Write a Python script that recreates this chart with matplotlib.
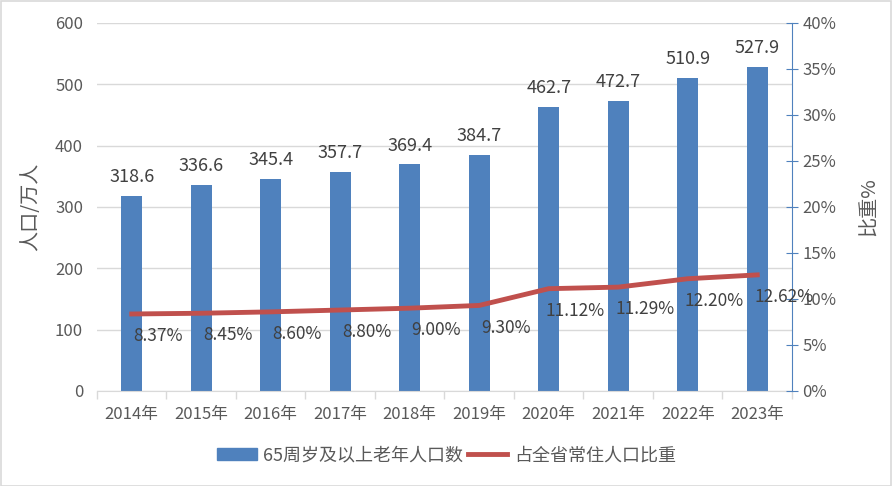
import matplotlib
matplotlib.use("Agg")
import matplotlib.pyplot as plt
from matplotlib.ticker import FuncFormatter, MultipleLocator
from matplotlib.patches import Rectangle

plt.rcParams['font.family'] = ['Noto Sans CJK SC', 'DejaVu Sans']

# 数据
years = ['2014年', '2015年', '2016年', '2017年', '2018年',
         '2019年', '2020年', '2021年', '2022年', '2023年']
elderly = [318.6, 336.6, 345.4, 357.7, 369.4, 384.7, 462.7, 472.7, 510.9, 527.9]
share = [8.37, 8.45, 8.60, 8.80, 9.00, 9.30, 11.12, 11.29, 12.20, 12.62]

bar_color = '#4F81BD'
line_color = '#C0504D'
text_color = '#595959'
grid_color = '#D9D9D9'

fig = plt.figure(figsize=(8.93, 4.86), dpi=100)
ax = fig.add_axes([0.1086, 0.1955, 0.7783, 0.7572])
ax2 = ax.twinx()

x = list(range(len(years)))
ax.bar(x, elderly, width=0.30, color=bar_color, zorder=2)
for xi, v in zip(x, elderly):
    ax.annotate(f'{v:.1f}', (xi, v), xytext=(0, 7), textcoords='offset points',
                ha='center', va='bottom', fontsize=13, color='#404040')

ax.set_ylim(0, 600)
ax.set_xlim(-0.5, len(years) - 0.5)
ax.yaxis.set_major_locator(MultipleLocator(100))
ax.grid(axis='y', color=grid_color, linewidth=1, zorder=0)
ax.set_axisbelow(True)
ax.set_xticks(x)
ax.set_xticklabels(years)
ax.set_xticks([i - 0.5 for i in range(len(years) + 1)], minor=True)
ax.tick_params(axis='x', which='major', length=0, pad=11, labelsize=12, labelcolor=text_color)
ax.tick_params(axis='x', which='minor', length=6, color=grid_color, width=1)
ax.tick_params(axis='y', length=0, labelsize=12, labelcolor=text_color, pad=10)
ax.set_ylabel('人口/万人', fontsize=14.5, color=text_color, labelpad=10)

for s in ['top', 'right', 'left']:
    ax.spines[s].set_visible(False)
ax.spines['bottom'].set_color(grid_color)

ax2.plot(x, share, color=line_color, linewidth=3.5, zorder=3)
for xi, v in zip(x, share):
    ax2.annotate(f'{v:.2f}%', (xi, v), xytext=(19, -16), textcoords='offset points',
                 ha='center', va='center', fontsize=12.5, color='#404040')
ax2.set_ylim(0, 40)
ax2.yaxis.set_major_locator(MultipleLocator(5))
ax2.yaxis.set_major_formatter(FuncFormatter(lambda v, p: f'{v:.0f}%'))
ax2.tick_params(axis='y', direction='inout', length=9, color=bar_color,
                labelsize=12, labelcolor=text_color, pad=3)
ax2.set_ylabel('比重%', fontsize=14.5, color=text_color, rotation=90, labelpad=16)
for s in ['top', 'left', 'bottom']:
    ax2.spines[s].set_visible(False)
ax2.spines['right'].set_color(bar_color)

h1 = Rectangle((0, 0), 1, 1, color=bar_color)
h2 = plt.Line2D([], [], color=line_color, linewidth=3.5)
fig.legend([h1, h2], ['65周岁及以上老年人口数', '占全省常住人口比重'],
           loc='center', bbox_to_anchor=(0.5, 0.063), ncol=2, frameon=False,
           fontsize=13, labelcolor=text_color, handlelength=2.2, handleheight=0.7,
           columnspacing=0.25, handletextpad=0.35)

fig.patches.append(Rectangle((0.001, 0.001), 0.997, 0.997, transform=fig.transFigure,
                             fill=False, edgecolor='#D9D9D9', linewidth=1.2))

fig.savefig('out.png', dpi=100, facecolor='white')
